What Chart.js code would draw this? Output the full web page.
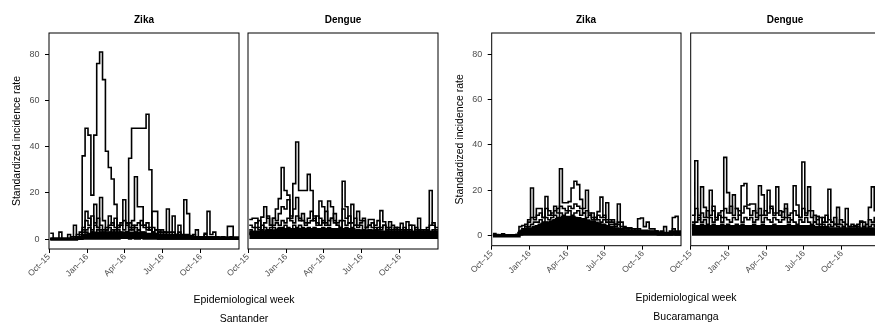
<!DOCTYPE html>
<html><head><meta charset="utf-8">
<script src="https://cdn.jsdelivr.net/npm/chart.js@4.4.0/dist/chart.umd.min.js"></script>
<style>
html,body{margin:0;padding:0;overflow:hidden;background:#fff;}
#wrap{position:relative;width:875px;height:322px;overflow:hidden;font-family:"Liberation Sans",Arial,sans-serif;}
canvas{position:absolute;left:0;top:0;}
.lbl{position:absolute;white-space:nowrap;transform:translate(-50%,-50%);color:#000;line-height:1;}
.strip{font-weight:bold;font-size:10px;}
.xt{font-size:10.5px;}
</style></head>
<body><div id="wrap">
<canvas id="c1" width="890" height="322"></canvas>
<canvas id="c2" width="890" height="322"></canvas>
<canvas id="c3" width="890" height="322"></canvas>
<canvas id="c4" width="890" height="322"></canvas>
<div class="lbl strip" style="left:144px;top:20px">Zika</div>
<div class="lbl strip" style="left:343px;top:20px">Dengue</div>
<div class="lbl strip" style="left:586px;top:20px">Zika</div>
<div class="lbl strip" style="left:785px;top:20px">Dengue</div>
<div class="lbl xt" style="left:244px;top:299px">Epidemiological week</div>
<div class="lbl xt" style="left:244px;top:318px">Santander</div>
<div class="lbl xt" style="left:686px;top:297px">Epidemiological week</div>
<div class="lbl xt" style="left:686px;top:316px">Bucaramanga</div>
</div>
<script>
// ---- categories: epidemiological weeks (start dates) ----
const firstWeek = '2015-10-04';
const nWeeks = 66;
// ---- x tick labels ----
const tickDates = ['2015-10-01','2016-01-01','2016-04-01','2016-07-01','2016-10-01'];
const tickLabels = ['Oct–15','Jan–16','Apr–16','Jul–16','Oct–16'];
const yTicks = [0,20,40,60,80];

// ---- Santander, Zika ----
const szA = [0,0,0,0,0,0,0,0,0,0, 0,36,48,45,19,45,76,81,69,38, 31,26,15,3,2,1,1,0,1,0, 0,1,0,0,0,0,0,0,0,0, 0,0,0,0,0,0,0,0,0,0, 0,0,0,0,0,0,0,0,0,0, 0,0,0,0,0,0];
const szB = [0,0,0,0,0,0,0,0,0,0, 0,0,0,0,0,0,0,0,0,0, 0,0,0,0,1,2,3,35,48,48, 48,48,48,54,30,2,1,0,0,0, 0,0,0,0,0,0,0,0,0,0, 0,0,0,0,0,0,0,0,0,0, 0,0,0,0,0,0];
const szC = [2.5,0,0,3,0,0,2,0,6,1, 3,4,12,9,3,15,5,18,8,4, 10,6,9,5,6,17,7,5,8,27, 14,14,6,7,4,12,12,4,3,2, 13,3,10,2,6,1,17,11,1,1, 4,1,0,2.5,12,2,3,1,0,0, 0,5.5,5.5,0,0,0];
const szD = [0,0,0,0,0,0,0,1,1,2, 2,5,8,6,10,7,9,6,4,5, 6,7,5,6,7,8,6,7,6,5, 4,8,6,5,4,5,4,3,4,3, 3,2,3,2,3,2,2,2,1,2, 1,1,1,2,1,1,1,1,0,1, 0,0,1,0,0,0];
const szE = [0,0,0,0,0,0,0,0,0,0, 0,3,4,5,4,6,5,4,3,4, 5,3,4,5,6,4,7,5,4,6, 7,6,5,4,5,3,4,3,2,3, 2,2,2,1,2,1,1,1,1,1, 1,0,1,0,1,0,0,0,0,0, 0,0,0,0,0,0];
const szF = [0,0,0,0,0,0,0,0,0,1, 1,2,3,2,3,2,4,3,2,3, 3,4,3,4,3,2,3,4,5,3, 4,3,3,2,2,3,2,2,2,1, 2,1,1,1,2,1,1,1,1,1, 1,1,1,1,0,1,1,0,0,1, 0,0,0,0,0,0];
const szFloor = [0,0,0,0,0,0,0,0,0,0.5, 0.5,1,1.5,2,2,2.5,2.5,2.5,2.5,2.5, 2.5,2.5,2.5,2.5,2.5,2.5,2.5,2.5,2.5,2.5, 2.5,2.5,2,2,2,2,2,1.5,1.5,1.5, 1,1,1,1,1,1,1,1,1,0.5, 0.5,0.5,0.5,0.5,0.5,0.5,0.5,0.5,0.5,0.5, 0.5,0.5,0.5,0.5,0.5,0.5];

// ---- Santander, Dengue ----
const sdA = [8.5,9,9,5,9.5,14,9,6,9,13, 17.5,31,21,19,10,24,42,21,21,21, 28,21,10,6,16.5,14,6,16.5,14,8, 6,5,25,14,7,15,6,12,8,8, 5,8.5,8.5,5,4,12.3,7.5,4,7.5,4, 5,3,6.8,4,7.5,6,6,4,9,4, 3,4,21,6,4,4];
const sdB = [6,5,7,8,4,7,10,6,9,8, 11,14,13,17,9,13,18,8,11,7, 9,12,8,10,9,7,12,8,9,11, 7,8,13,9,10,7,9,6,7,9, 5,6,7,6,8,5,6,4,5,6, 4,5,4,5,4,6,3,5,4,3, 4,5,6,7,5,5];
const sdC = [4,3,5,4,6,5,4,5,6,7, 6,8,7,9,8,7,10,9,8,6, 7,8,9,7,6,8,7,6,9,7, 6,5,8,6,7,5,6,5,6,4, 5,6,5,4,5,4,6,5,4,3, 5,4,3,4,3,4,3,3,4,3, 3,4,3,4,3,3];
const sdD = [2,3,2,3,4,3,3,4,5,4, 5,5,6,5,4,6,5,6,5,4, 5,4,5,4,3,5,4,5,4,3, 4,3,4,5,3,4,3,4,3,2, 3,4,3,2,3,3,2,3,2,3, 2,2,3,2,2,3,2,2,3,2, 2,2,3,2,2,2];
const sdFloor = [3,3,3,3,3,3,3.5,3.5,3.5,3.5, 4,4,4,4,4,4,4,4,4,4, 4,4,4,4,4,4,4,4,4,4, 4,4,4,4,4,4,3.5,3.5,3.5,3.5, 3.5,3.5,3.5,3.5,3,3,3,3,3,3, 3,3,3,3,3,3,3,3,3,3, 3,3,3,3,3,3];

// ---- Bucaramanga, Zika ----
const bzA = [1,0.5,0.3,0.8,0.3,0.3,0.3,0.3,0.5,4, 4.5,5,7,21,8,12,12,8,17.3,11, 9,13,10,29.5,14.5,14.5,15,21,24,22.5, 16,12,20,10,8,7,10.6,17,8,14.5, 7,6,5,14,6,3.5,3.5,3.5,2,3, 7.5,7.8,4,6,3,3,2,1.5,1.5,4, 1,1,8,8.5,1,1];
const bzB = [0.5,0.3,0.3,0.3,0.2,0.2,0.3,0.3,0.5,2, 3,4,6,8,7,9,10,8,12,9, 10,11,12,13,12,11,13,12,14,13, 12,10,11,9,10,8,9,8,9,7, 6,7,5,6,4,4,3,3,3,2, 3,2,2,2,2,2,2,1,2,1, 1,2,3,2,2,2];
const bzC = [0.3,0.2,0.2,0.2,0.2,0.2,0.2,0.3,0.3,1, 2,3,4,5,6,6,7,6,8,7, 8,9,8,10,9,10,11,9,10,11, 9,10,8,9,7,8,7,6,7,6, 5,5,4,5,3,3,3,2,2,2, 2,2,1,2,1,1,1,1,1,1, 1,1,2,1,1,1];
const bzD = [0.2,0.2,0.2,0.2,0.2,0.2,0.2,0.2,0.2,0.5, 1,2,2,3,4,4,5,5,6,5, 6,7,6,7,8,7,8,7,8,7, 6,7,6,5,6,5,5,4,5,4, 3,4,3,3,2,2,2,2,1,1, 1,1,1,1,1,1,1,0.5,0.5,0.5, 0.5,0.5,1,0.5,0.5,0.5];
const bzFloor = [0,0,0,0,0,0,0,0,0,1, 2,2.5,3,3,3.5,4,4.5,5,5,5.5, 6,6.5,7,7.5,8,8,8,8,7.5,7.5, 7,7,6.5,6,6,5.5,5,4.5,4,4, 3.5,3,3,2.5,2.5,2,2,2,2,2, 2,2,2,1.5,1.5,1.5,1.5,1,1,1, 1,1,1,1,1,1];

// ---- Bucaramanga, Dengue ----
const bdA = [6,33,9,21.5,12.5,8,20,11,7,9, 8,34.5,19,10,18,12,9,22,23,13.5, 14,14,8,22,18,9,20,12,10,21.5, 9,10.5,14,8,7,22,13.5,8,32.5,9, 21.5,11,6,8.5,5,8,6,20.5,6,5, 12.5,5,4,12,4,4,4.5,3,6.5,6, 3,12.5,21.5,11,6,6];
const bdB = [9,12,7,10,8,11,9,13,8,10, 11,12,10,13,9,12,11,10,13,12, 9,11,10,12,9,11,10,13,9,10, 11,8,12,9,10,11,9,8,12,10, 11,8,9,7,8,6,9,7,6,8, 5,7,6,5,4,5,4,5,6,4, 5,7,6,8,6,6];
const bdC = [5,6,8,6,7,5,8,6,7,9, 6,8,7,6,8,7,9,6,8,7, 8,6,7,9,6,8,7,6,8,7, 6,7,8,6,7,6,5,7,6,8, 6,5,6,5,4,5,4,5,4,5, 4,3,4,3,3,3,3,4,3,4, 3,4,5,4,4,4];
const bdD = [3,4,3,5,4,3,4,5,4,3, 5,4,5,4,3,5,4,5,4,3, 4,5,4,3,5,4,3,4,5,4, 3,4,3,5,4,3,4,3,4,3, 3,4,3,2,3,3,2,3,2,3, 2,2,2,2,2,2,2,2,2,2, 2,2,3,2,2,2];
const bdFloor = [4,4,4,4,4,4,4,4,4,4, 4,4,4,4,4,4,4,4,4,4, 4,4,4,4,4,4,4,4,4,4, 4,4,4,4,4,4,4,4,4,4, 4,4,3.5,3.5,3.5,3.5,3.5,3,3,3, 3,3,3,3,3,3,3,3,3,3, 3,3,3,3,3,3];

// ---- helpers ----
const origin = Date.UTC(2015, 9, 1);
function dayOf(s){ const p = s.split('-').map(Number); return (Date.UTC(p[0], p[1]-1, p[2]) - origin) / 86400000; }
const week0 = dayOf(firstWeek);
const weekDays = [];
for (let i = 0; i < nWeeks; i++) weekDays.push(week0 + 7 * i);
const tickDays = tickDates.map(dayOf);
const toPts = arr => arr.map((v, i) => ({x: weekDays[i], y: v}));
const FAM = '"Liberation Sans", Arial, sans-serif';
const CW = 890;

const framePlugin = {
  id: 'frame',
  afterDatasetsDraw(chart) {
    const a = chart.chartArea, ctx = chart.ctx;
    ctx.save();
    ctx.strokeStyle = '#000';
    ctx.lineWidth = 1;
    ctx.strokeRect(a.left, a.top, a.right - a.left, a.bottom - a.top);
    ctx.restore();
  }
};

function makePanel(id, series, floor, area) {
  const ds = [{
    data: toPts(floor), stepped: 'before', borderColor: '#000', backgroundColor: '#000',
    borderWidth: 3.5, fill: 'origin', pointRadius: 0
  }];
  series.forEach(s => ds.push({
    data: toPts(s), stepped: 'before', borderColor: '#000', borderWidth: 1.6,
    fill: false, pointRadius: 0, borderJoinStyle: 'miter'
  }));
  const yW = area.showY ? 49 : 0;
  new Chart(document.getElementById(id), {
    type: 'line',
    data: {datasets: ds},
    options: {
      responsive: false, animation: false, devicePixelRatio: 1,
      events: [],
      layout: {padding: {left: area.left - yW, right: CW - area.right, top: 33, bottom: 0}},
      plugins: {legend: {display: false}, tooltip: {enabled: false}},
      scales: {
        x: {
          type: 'linear', min: 0, max: 458,
          afterBuildTicks: s => { s.ticks = tickDays.map(v => ({value: v})); },
          afterFit: s => { s.height = area.xH; },
          ticks: {
            autoSkip: false, minRotation: 45, maxRotation: 45, padding: -1,
            color: '#4d4d4d', font: {size: 8.5, family: FAM},
            callback: v => tickLabels[tickDays.indexOf(v)]
          },
          grid: {drawOnChartArea: false, drawTicks: true, tickLength: 4, color: '#000', lineWidth: 1},
          border: {display: false}
        },
        y: {
          type: 'linear', min: area.yMin, max: area.yMax, display: area.showY,
          afterBuildTicks: s => { s.ticks = yTicks.map(v => ({value: v})); },
          afterFit: s => { s.width = yW; },
          ticks: {color: '#4d4d4d', font: {size: 9, family: FAM}, padding: 5.5},
          grid: {drawOnChartArea: false, drawTicks: true, tickLength: 4, color: '#000', lineWidth: 1},
          border: {display: false},
          title: {display: true, text: 'Standardized incidence rate', color: '#000',
                  font: {size: 10.5, family: FAM}, padding: {top: 11, bottom: 0}}
        }
      }
    },
    plugins: [framePlugin]
  });
}

makePanel('c1', [szA, szB, szC, szD, szE, szF], szFloor, {left: 49, right: 239, xH: 73, yMin: -4.3, yMax: 89.2, showY: true});
makePanel('c2', [sdA, sdB, sdC, sdD], sdFloor, {left: 248, right: 438, xH: 73, yMin: -4.3, yMax: 89.2, showY: false});
makePanel('c3', [bzA, bzB, bzC, bzD], bzFloor, {left: 491.7, right: 681, xH: 76.3, yMin: -4.4, yMax: 89.3, showY: true});
makePanel('c4', [bdA, bdB, bdC, bdD], bdFloor, {left: 690.7, right: 880, xH: 76.3, yMin: -4.4, yMax: 89.3, showY: false});
</script>
</body></html>
